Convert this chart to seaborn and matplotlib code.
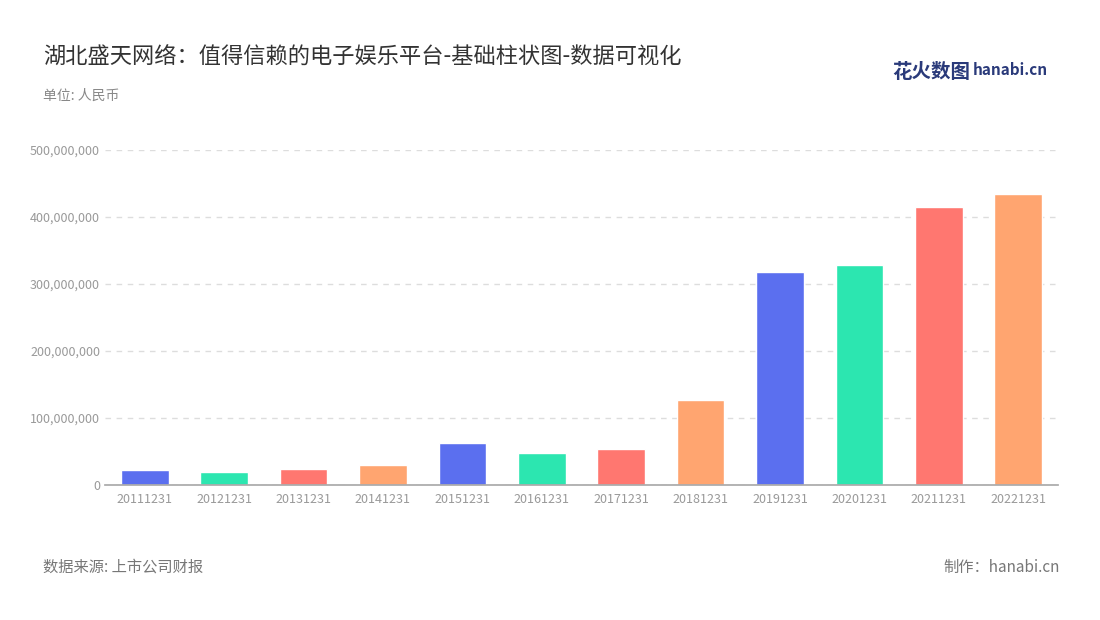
import matplotlib
matplotlib.use("Agg")
import matplotlib.pyplot as plt
import seaborn as sns
import pandas as pd
from matplotlib.ticker import FuncFormatter

dates = ["20111231","20121231","20131231","20141231","20151231","20161231",
         "20171231","20181231","20191231","20201231","20211231","20221231"]
values = [22e6, 19e6, 24e6, 30e6, 63e6, 48e6, 54e6, 127e6, 318e6, 328e6, 415e6, 434e6]
palette = ["#5B6FEF", "#2CE6B0", "#FF7770", "#FFA570"]
colors = [palette[i % 4] for i in range(len(dates))]

sns.set_theme(style="white")
plt.rcParams['font.family'] = ['Noto Sans CJK SC', 'DejaVu Sans']

fig = plt.figure(figsize=(11, 6.2), dpi=100)
ax = fig.add_axes([105/1100, 1-485/620, 953/1100, 335/620])
df = pd.DataFrame({"date": dates, "value": values})
sns.barplot(data=df, x="date", y="value", hue="date", palette=colors, legend=False,
            width=0.6, ax=ax, saturation=1)
ax.set_ylim(0, 500e6)
ax.set_yticks([0, 100e6, 200e6, 300e6, 400e6, 500e6])
ax.yaxis.set_major_formatter(FuncFormatter(lambda v, p: f"{int(v):,}"))
ax.grid(axis="y", linestyle=(0, (4, 4)), color="#DDDDDD", linewidth=1)
ax.set_axisbelow(True)
for s in ["top", "right", "left"]:
    ax.spines[s].set_visible(False)
ax.spines["bottom"].set_color("#AAAAAA")
ax.tick_params(axis="both", labelsize=9, colors="#999999", length=0)
ax.tick_params(axis="x", length=4, color="#AAAAAA", pad=2)
ax.set_xlabel("")
ax.set_ylabel("")

fig.text(43/1100, 1-57/620, "湖北盛天网络：值得信赖的电子娱乐平台-基础柱状图-数据可视化",
         fontsize=16, color="#333333", va="center")
fig.text(43/1100, 1-96/620, "单位: 人民币", fontsize=10, color="#888888", va="center")
fig.text(43/1100, 1-567/620, "数据来源: 上市公司财报", fontsize=11, color="#777777", va="center")
fig.text(1060/1100, 1-567/620, "制作：hanabi.cn", fontsize=11, color="#777777", va="center", ha="right")
fig.text(892/1100, 1-72/620, "花火数图", fontsize=14, color="#2A3A7A", va="center", fontweight="bold")
fig.text(973/1100, 1-70/620, "hanabi.cn", fontsize=11, color="#2A3A7A", va="center", fontweight="bold")
fig.savefig("out.png", dpi=100)
